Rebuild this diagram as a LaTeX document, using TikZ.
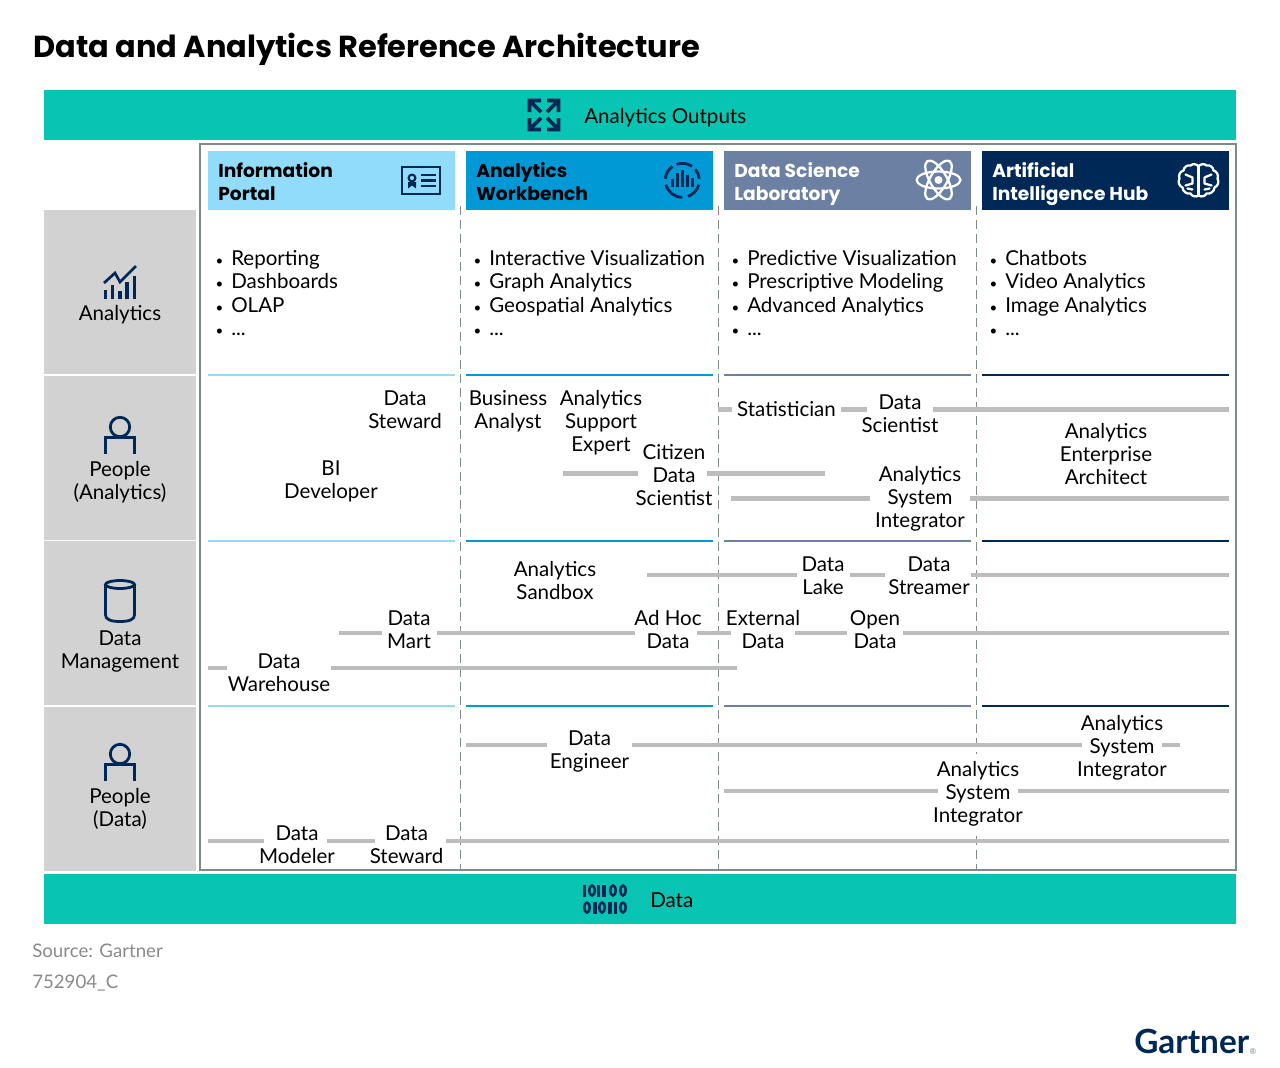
\documentclass[tikz,border=0pt]{standalone}
\usepackage{fontspec}
\setmainfont{Lato}
\newfontfamily\titlefont{Poppins}
\definecolor{teal}{HTML}{08C4B2}
\definecolor{navy}{HTML}{002856}
\definecolor{skyblue}{HTML}{92DCFB}
\definecolor{midblue}{HTML}{0099D6}
\definecolor{slate}{HTML}{6B80A3}
\definecolor{cellgray}{HTML}{D2D2D2}
\definecolor{bargray}{HTML}{BDBDBD}
\definecolor{framegray}{HTML}{7F8A8A}
\definecolor{srcgray}{HTML}{8A8A8A}
\newcommand{\bul}{\makebox[12.75pt][l]{\kern1pt\fontsize{10}{10}\selectfont\textbullet}}
\tikzset{
  txt/.style={inner sep=0pt,align=center,fill=white,font=\fontsize{15.4}{17.25}\selectfont},
  bandtxt/.style={anchor=west,inner sep=0pt,align=center,font=\fontsize{15.4}{17.25}\selectfont},
  rowtxt/.style={inner sep=0pt,align=center,font=\fontsize{15.4}{17.25}\selectfont},
  head/.style={anchor=west,inner sep=0pt,align=left,font=\fontsize{14}{17.25}\titlefont\bfseries},
  lst/.style={anchor=north west,inner sep=0pt,align=left,font=\fontsize{15.4}{17.6}\selectfont},
  band/.style={draw=none,fill=teal,minimum width=894pt,minimum height=37.5pt,inner sep=0pt},
  cell/.style={draw=none,fill=cellgray,minimum width=114pt,minimum height=123pt,inner sep=0pt},
  colhead/.style={draw=none,minimum width=185.25pt,minimum height=44.25pt,inner sep=0pt},
  bar/.style={draw=bargray,line width=3.4pt},
  icon/.style={draw=navy,line width=2.1pt},
  iconw/.style={draw=white,line width=1.7pt,line cap=round,line join=round},
  srctxt/.style={anchor=base west,inner sep=0pt,text=srcgray,font=\fontsize{14}{17}\selectfont},
}
\begin{document}
\begin{tikzpicture}[x=0.75pt,y=-0.75pt]
  \useasboundingbox (0,0) rectangle (1280,1067);
  \node[anchor=west,inner sep=0pt,font=\fontsize{22.8}{28}\titlefont\bfseries] (title) at (33,49) {Data and Analytics Reference Architecture};
  \node[band] (outband) at (640,115) {};
  \node[band] (databand) at (640,899) {};
  \node[bandtxt] (outlabel) at (584,118) {Analytics Outputs};
  \node[bandtxt] (datalabel) at (650,900) {Data};
  \node[draw=framegray,line width=1.5pt,minimum width=777pt,minimum height=544.5pt,inner sep=0pt] (frame) at (718,507) {};
  % row cells
  \node[cell] (cellA) at (120,292) {};
  \node[cell] (cellB) at (120,457.75) {};
  \node[cell] (cellC) at (120,623) {};
  \node[cell] (cellD) at (120,788.5) {};
  \node[rowtxt] (rowA) at (120,315) {Analytics};
  \node[rowtxt] (rowB) at (120,482) {People\\(Analytics)};
  \node[rowtxt] (rowC) at (120,652) {Data\\Management};
  \node[rowtxt] (rowD) at (120,809) {People\\(Data)};
  % column heads
  \node[colhead,fill=skyblue] (portal) at (331.5,180.5) {};
  \node[colhead,fill=midblue] (bench) at (589.5,180.5) {};
  \node[colhead,fill=slate] (lab) at (847.5,180.5) {};
  \node[colhead,fill=navy] (hub) at (1105.5,180.5) {};
  \node[head] (portaltxt) at (218,182) {Information\\Portal};
  \node[head] (benchtxt) at (476,182) {Analytics\\Workbench};
  \node[head,text=white] (labtxt) at (734,184) {Data Science\\Laboratory};
  \node[head,text=white] (hubtxt) at (992,184) {Artificial\\Intelligence Hub};
  % column rules
  \foreach \x/\c in {331.5/skyblue,589.5/midblue,847.5/slate,1105.5/navy}{
    \foreach \y in {375,540.5,706}
      \draw[\c,line width=1.5pt] (\x-123.5,\y) -- (\x+123.5,\y);
  }
  \foreach \x in {460.5,718.5,976.5}
    \draw[framegray,line width=0.6pt,dash pattern=on 7pt off 3.5pt] (\x,206) -- (\x,869);
  % lists
  \node[lst] (listA) at (214,250) {\bul Reporting\\\bul Dashboards\\\bul OLAP\\\bul ...};
  \node[lst] (listB) at (472,250) {\bul Interactive Visualization\\\bul Graph Analytics\\\bul Geospatial Analytics\\\bul ...};
  \node[lst] (listC) at (730,250) {\bul Predictive Visualization\\\bul Prescriptive Modeling\\\bul Advanced Analytics\\\bul ...};
  \node[lst] (listD) at (988,250) {\bul Chatbots\\\bul Video Analytics\\\bul Image Analytics\\\bul ...};
  % people analytics
  \node[txt] (steward) at (405,410) {Data\\Steward};
  \node[txt] (bidev) at (331,481) {BI\\Developer};
  \node[txt] (banalyst) at (508,411) {Business\\Analyst};
  \node[txt] (support) at (601,423) {Analytics\\Support\\Expert};
  \node[txt] (citizen) at (674,475) {Citizen\\Data\\Scientist};
  \node[txt] (stat) at (786.5,409) {Statistician};
  \node[txt] (dsci) at (900,414) {Data\\Scientist};
  \node[txt] (enterprise) at (1106,454) {Analytics\\Enterprise\\Architect};
  \node[txt] (asi) at (920,499) {Analytics\\System\\Integrator};
  % data management
  \node[txt] (sandbox) at (555,581) {Analytics\\Sandbox};
  \node[txt] (dlake) at (823,576) {Data\\Lake};
  \node[txt] (dstream) at (929,576) {Data\\Streamer};
  \node[txt] (dmart) at (409,630) {Data\\Mart};
  \node[txt] (adhoc) at (668,630) {Ad Hoc\\Data};
  \node[txt] (extern) at (763,630) {External\\Data};
  \node[txt] (open) at (875,630) {Open\\Data};
  \node[txt] (dware) at (279,673) {Data\\Warehouse};
  % people data
  \node[txt] (dengin) at (589.5,752) {Data\\Engineer};
  \node[txt] (asitop) at (1122,748) {Analytics\\System\\Integrator};
  \node[txt,inner ysep=6pt] (asilow) at (978,794) {Analytics\\System\\Integrator};
  \node[txt] (dmodel) at (297,845) {Data\\Modeler};
  \node[txt] (dsteward) at (406.5,845) {Data\\Steward};
  % free ends
  \coordinate (endA) at (718,409.5);
  \coordinate (endB) at (1229,409.5);
  \coordinate (endC) at (563,473.5);
  \coordinate (endD) at (825,473.5);
  \coordinate (endE) at (731,498.5);
  \coordinate (endF) at (1229,498.5);
  \coordinate (endG) at (647,575);
  \coordinate (endH) at (1229,575);
  \coordinate (endI) at (339,633);
  \coordinate (endJ) at (1229,633);
  \coordinate (endK) at (208,668);
  \coordinate (endL) at (737,668);
  \coordinate (endM) at (466,745);
  \coordinate (endN) at (1180,745);
  \coordinate (endO) at (724,791);
  \coordinate (endP) at (1229,791);
  \coordinate (endQ) at (208,841);
  \coordinate (endR) at (1229,841);
  \begin{scope}[bar]
    \draw (endA) -- ([xshift=-4pt]stat.west |- endA);
    \draw ([xshift=4pt]stat.east |- endA) -- ([xshift=4pt]dsci.west |- endA);
    \draw ([xshift=-4pt]dsci.east |- endA) -- (endB);
    \draw (endC) -- ([xshift=2pt]citizen.west |- endC);
    \draw ([xshift=-4pt]citizen.east |- endC) -- (endD);
    \draw (endE) -- ([xshift=-4pt]asi.west |- endE);
    \draw ([xshift=4pt]asi.east |- endE) -- (endF);
    \draw (endG) -- ([xshift=-3pt]dlake.west |- endG);
    \draw ([xshift=4pt]dlake.east |- endG) -- ([xshift=-2pt]dstream.west |- endG);
    \draw ([xshift=1pt]dstream.east |- endG) -- (endH);
    \draw (endI) -- ([xshift=-4pt]dmart.west |- endI);
    \draw ([xshift=4pt]dmart.east |- endI) -- ([xshift=1pt]adhoc.west |- endI);
    \draw ([xshift=-4pt]adhoc.east |- endI) -- ([xshift=4pt]extern.west |- endI);
    \draw ([xshift=-4pt]extern.east |- endI) -- ([xshift=-2pt]open.west |- endI);
    \draw ([xshift=2pt]open.east |- endI) -- (endJ);
    \draw (endK) -- (dware.west |- endK);
    \draw (dware.east |- endK) -- (endL);
    \draw (endM) -- ([xshift=-2pt]dengin.west |- endM);
    \draw ([xshift=2pt]dengin.east |- endM) -- ([xshift=4pt]asitop.west |- endM);
    \draw ([xshift=-4pt]asitop.east |- endM) -- (endN);
    \draw (endO) -- ([xshift=4pt]asilow.west |- endO);
    \draw ([xshift=-4pt]asilow.east |- endO) -- (endP);
    \draw (endQ) -- ([xshift=4pt]dmodel.west |- endQ);
    \draw ([xshift=-6pt]dmodel.east |- endQ) -- ([xshift=4pt]dsteward.west |- endQ);
    \draw ([xshift=2pt]dsteward.east |- endQ) -- (endR);
  \end{scope}
  % icons on the bands
  \begin{scope}[shift={(544,115)}]
    \foreach \a in {0,90,180,270}
      \draw[icon,line width=2.7pt,rotate=\a] (-14.5,-3) -- (-14.5,-14.5) -- (-3,-14.5) (-14.5,-14.5) -- (-3,-3);
  \end{scope}
  \foreach \x in {584.5,598.5,604}
    \draw[navy,line width=2.6pt] (\x,884.5) -- (\x,896.5);
  \foreach \x in {592,613,623}
    \draw[navy,line width=1.9pt] (\x,890.5) ellipse[x radius=2.8,y radius=5];
  \foreach \x in {595,610,615.5}
    \draw[navy,line width=2.6pt] (\x,901.5) -- (\x,913.5);
  \foreach \x in {587,602,623}
    \draw[navy,line width=1.9pt] (\x,907.5) ellipse[x radius=2.8,y radius=5];
  % icons on the row cells
  \draw[icon,line width=2pt] (104,283) -- (115,273) -- (120,282) -- (136,266);
  \foreach \x/\y in {105.5/290,112.7/285,120/290.7,127/281.7,134.3/275.7}
    \draw[navy,line width=2.4pt] (\x,299) -- (\x,\y);
  \foreach \y in {427,754}{
    \draw[icon] (120,\y) circle[radius=9.7];
    \draw[icon] (105.5,\y+27) -- (105.5,\y+10.5) -- (134.5,\y+10.5) -- (134.5,\y+27);
  }
  \draw[icon] (120,584.5) ellipse[x radius=14.5,y radius=4];
  \draw[icon] (105.5,584.5) -- (105.5,615) .. controls (105.5,619.5) and (111,621.5) .. (120,621.5) .. controls (129,621.5) and (134.5,619.5) .. (134.5,615) -- (134.5,584.5);
  % icons on the column heads
  \draw[icon,line width=1.9pt] (402,167) rectangle (440,194);
  \draw[icon,line width=1.6pt] (412,178) circle[radius=3.4];
  \fill[navy] (408,182) -- (408,188.5) -- (412,185.5) -- (416,188.5) -- (416,182) -- cycle;
  \foreach \y in {175,180.5,186}
    \draw[navy,line width=1.9pt] (421,\y) -- (436,\y);
  \begin{scope}[shift={(682.3,180.3)}]
    \foreach \s/\e in {15/70,90/165,185/235,250/305,320/355}
      \draw[icon] (\s:17) arc[start angle=\s,end angle=\e,radius=17];
    \foreach \x/\y in {-10/-1,-4.6/-7,0.4/-10,5.4/-5,10.4/-2}
      \draw[navy,line width=2pt] (\x,7) -- (\x,\y);
  \end{scope}
  \begin{scope}[shift={(938.5,180)}]
    \foreach \a in {0,60,120}
      \draw[iconw,rotate=\a] (0,0) ellipse[x radius=22,y radius=8.5];
    \fill[white] (0,0) circle[radius=4];
  \end{scope}
  \begin{scope}[shift={(1198.5,180.5)},iconw]
    \draw (0,-14) to[bend right=50] (-8,-15) to[bend right=50] (-15,-10) to[bend right=50] (-19,-2)
      to[bend right=50] (-16,7) to[bend right=50] (-8,13) to[bend right=50] (0,15)
      to[bend right=50] (8,13) to[bend right=50] (16,7) to[bend right=50] (19,-2)
      to[bend right=50] (15,-10) to[bend right=50] (8,-15) to[bend right=50] (0,-14) -- cycle;
    \draw (0,-14) -- (0,15);
    \draw (-13,-6) -- (-6,-3) -- (-6,3) -- (-13,5);
    \draw (-6,9) -- (-11,8);
    \draw (13,-6) -- (6,-3) -- (6,3) -- (13,5);
    \draw (6,9) -- (11,8);
  \end{scope}
  % source and logo
  \node[srctxt] (source) at (32,957) {Source: Gartner};
  \node[srctxt] (docid) at (32,988) {752904\_C};
  \node[anchor=west,inner sep=0pt,text=navy,font=\fontsize{25}{28}\bfseries] (logo) at (1134,1041) {Gartner};
  \node[inner sep=0pt,text=slate,font=\fontsize{6}{7}\selectfont] (regmark) at (1253,1052) {®};
\end{tikzpicture}
\end{document}
